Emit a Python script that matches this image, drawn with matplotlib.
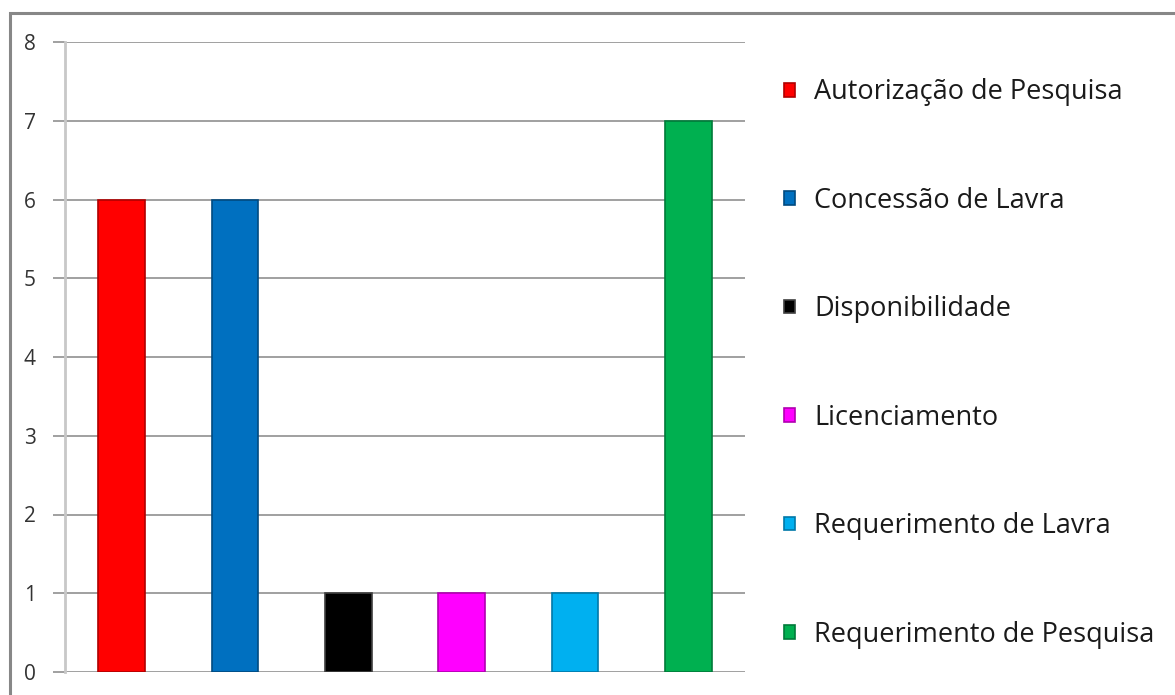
import matplotlib
matplotlib.use("Agg")
import matplotlib.pyplot as plt
from matplotlib.patches import Rectangle

# dados
categorias = ["Autorização de Pesquisa", "Concessão de Lavra", "Disponibilidade",
              "Licenciamento", "Requerimento de Lavra", "Requerimento de Pesquisa"]
valores = [6, 6, 1, 1, 1, 7]
cores = ["#FF0000", "#0070C0", "#000000", "#FF00FF", "#00B0F0", "#00B050"]
bordas = ["#B00000", "#004A80", "#404040", "#B000B0", "#0078A8", "#007A3A"]
yticks = [0, 1, 2, 3, 4, 5, 6, 7, 8]

plt.rcParams['font.family'] = ['Open Sans', 'DejaVu Sans']

fig = plt.figure(figsize=(11.75, 6.95), dpi=100)
W, H = 1175, 695

# moldura cinza do gráfico
fig.patches.append(Rectangle((9.5 / W, -0.1), 1.2, 1 - 12.5 / H + 0.1,
                             transform=fig.transFigure, fill=False,
                             edgecolor="#878787", linewidth=2.2))

ax = fig.add_axes([65 / W, 1 - 672 / H, 680 / W, 630 / H])
x = list(range(len(categorias)))
barras = ax.bar(x, valores, width=0.41, color=cores, edgecolor=bordas,
                linewidth=1.2, zorder=3, label=categorias)

ax.set_xlim(-0.5, 5.5)
ax.set_ylim(0, 8)
ax.set_yticks(yticks)
ax.set_xticks([])
ax.grid(axis='y', color="#868686", linewidth=1.1, zorder=0)
for s in ['top', 'right', 'bottom']:
    ax.spines[s].set_visible(False)
ax.spines['left'].set_color("#C8C8C8")
ax.spines['left'].set_linewidth(2)
ax.tick_params(axis='y', length=9, width=1.1, color="#868686",
               labelsize=15, labelcolor="#333333", pad=12)

leg = fig.legend(barras, categorias, loc='upper left',
                 bbox_to_anchor=(760 / W, 1 - 54 / H), frameon=False,
                 fontsize=19.5, handlelength=0.4, handleheight=0.4,
                 handletextpad=0.7, labelspacing=2.97, labelcolor="#1a1a1a")

fig.savefig("out.png", dpi=100)
